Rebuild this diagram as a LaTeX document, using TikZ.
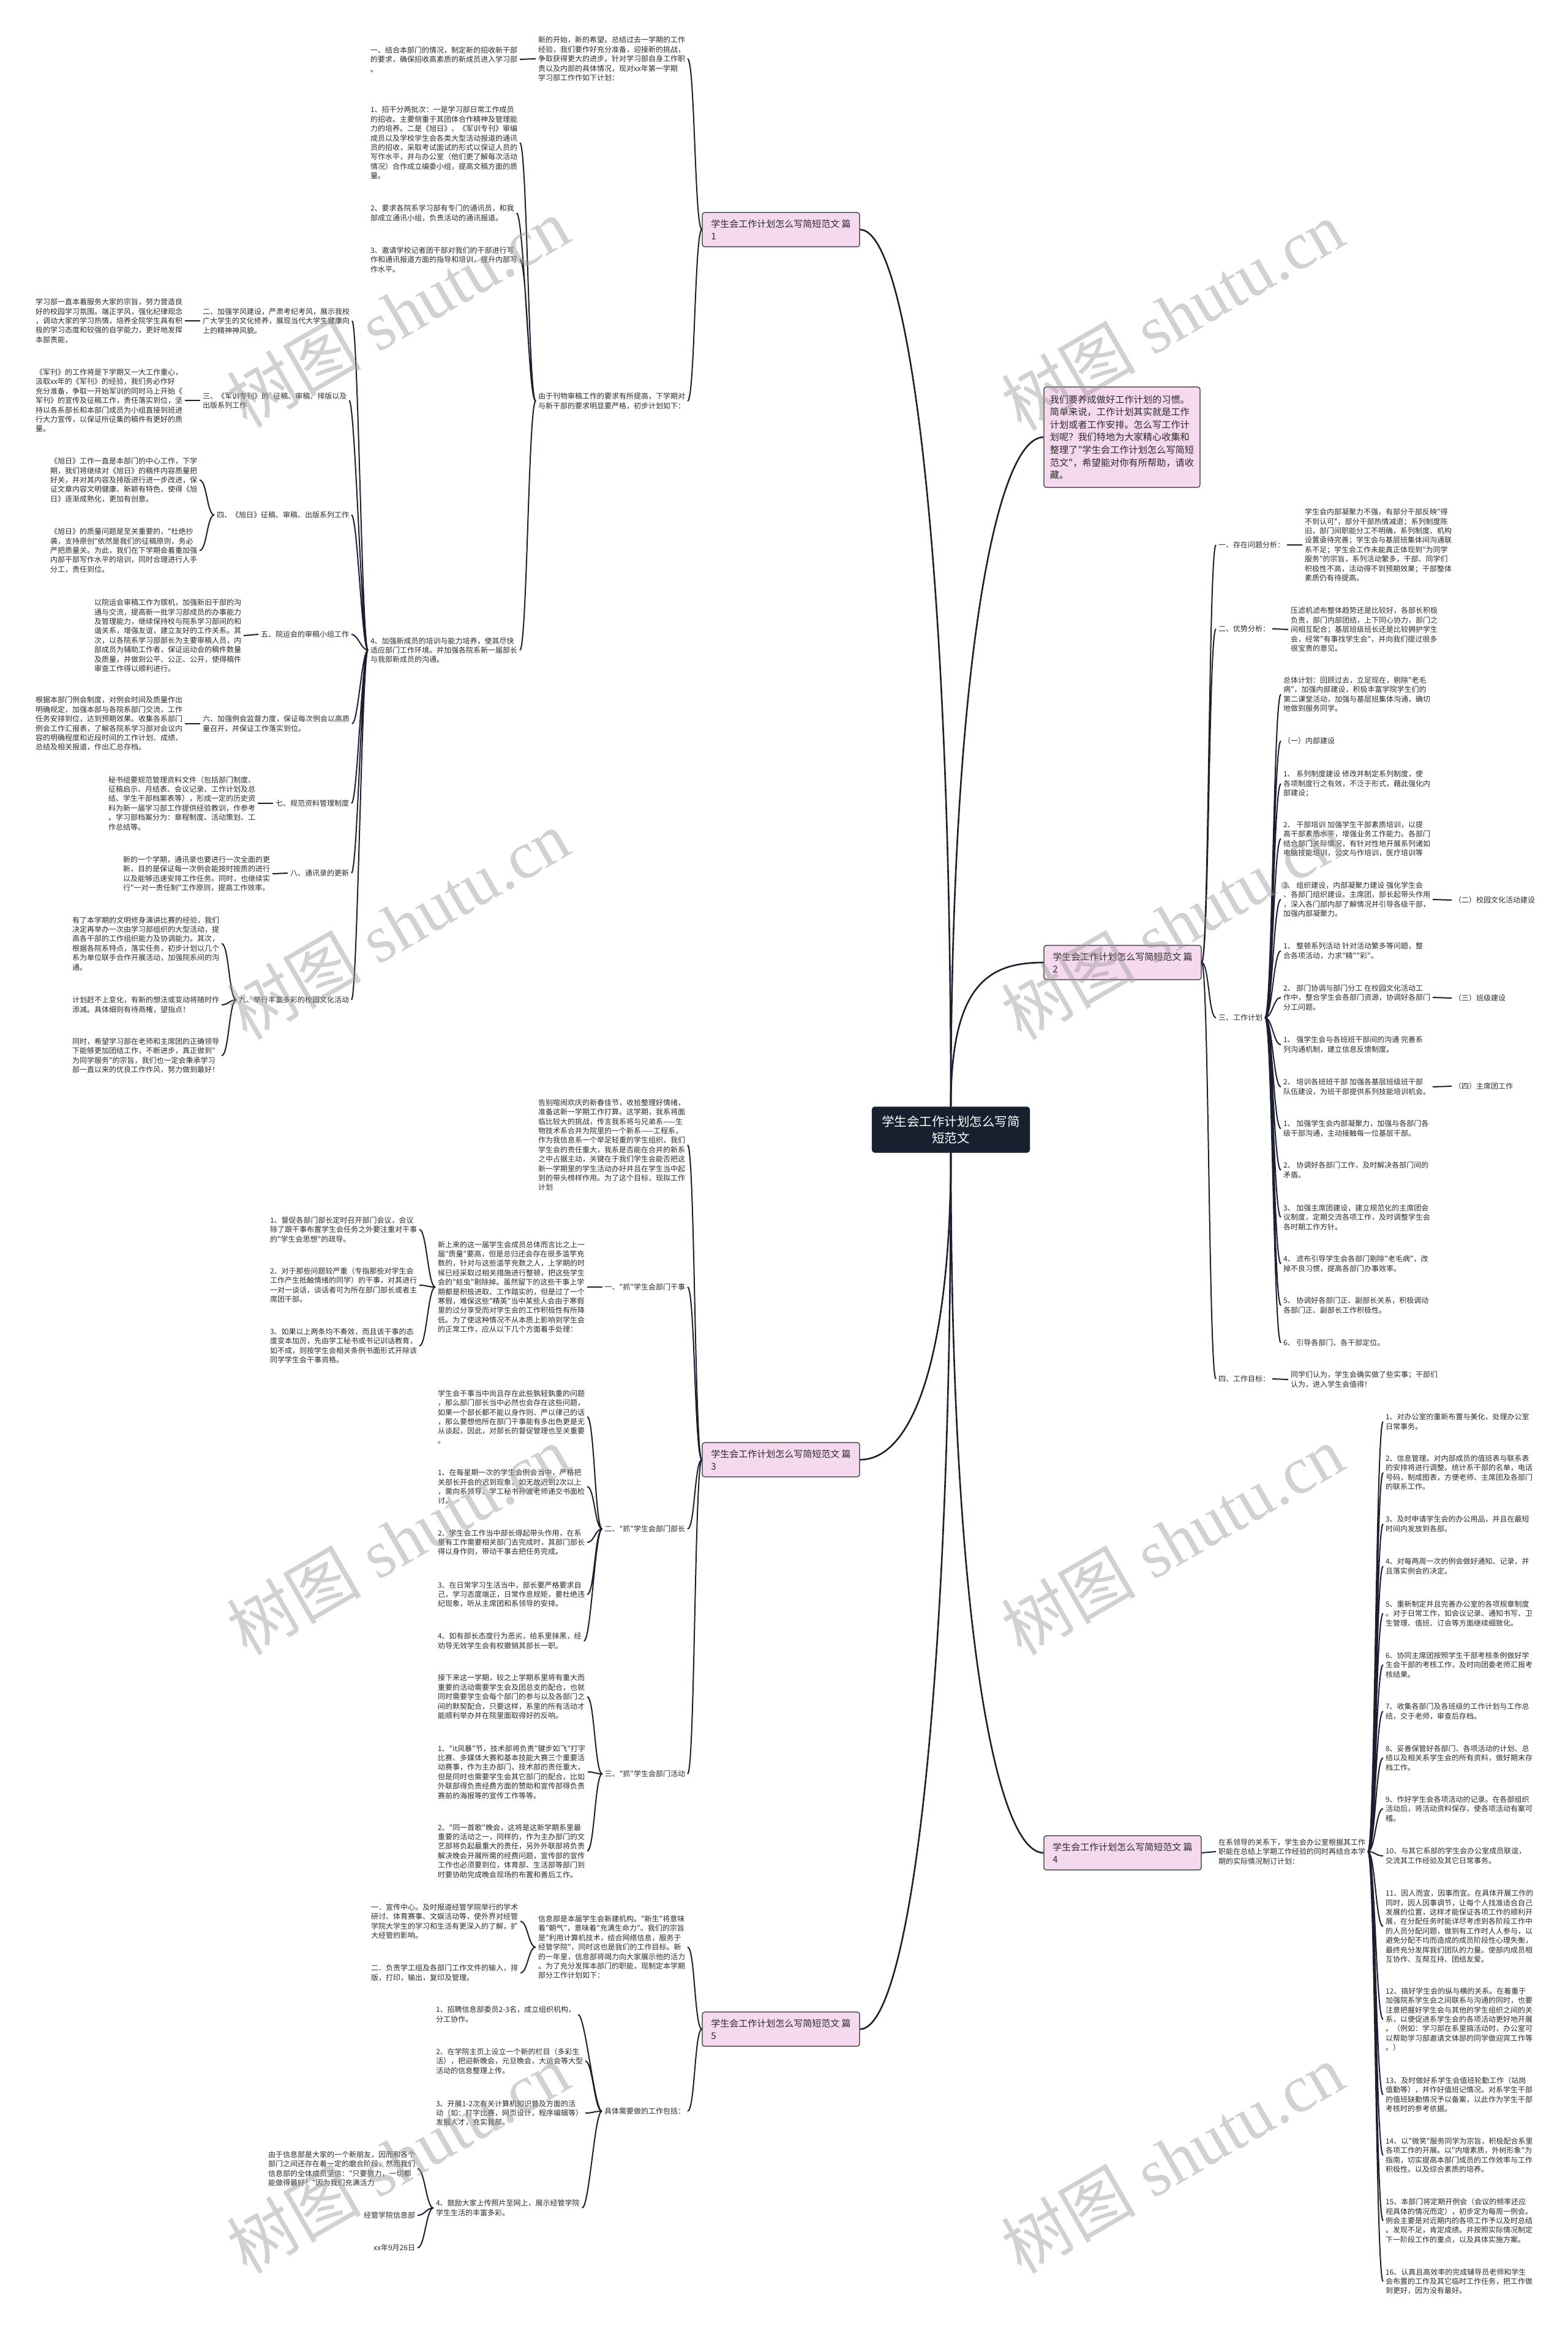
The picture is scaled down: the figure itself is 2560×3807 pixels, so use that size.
\documentclass[tikz,border=0pt]{standalone}
\usepackage{fontspec}
\usetikzlibrary{calc}
\newfontfamily\cjk{Noto Sans CJK SC}
\newfontfamily\wmser{Liberation Serif}
\definecolor{txtc}{HTML}{2B2B2B}
\definecolor{lnc}{HTML}{1A2030}
\definecolor{boxfl}{HTML}{F5D9EE}
\definecolor{boxln}{HTML}{2A2A30}
\definecolor{ctrfl}{HTML}{16202F}
\definecolor{wmc}{HTML}{9A9A9A}
\tikzset{
 txt/.style={font=\cjk\fontsize{12}{15.4}\selectfont, text=txtc, align=left, inner sep=0pt, outer sep=4pt},
 pbox/.style={draw=boxln, fill=boxfl, line width=1.2pt, rounded corners=4pt, font=\cjk\fontsize{15}{20.5}\selectfont, text=txtc, align=left, inner xsep=10pt, inner ysep=4pt, minimum width=257pt, minimum height=56pt},
 ibox/.style={draw=boxln, fill=boxfl, line width=1.2pt, rounded corners=4pt, font=\cjk\fontsize{15.2}{20.6}\selectfont, text=txtc, align=left, inner xsep=8pt, inner ysep=8pt, minimum width=255pt, minimum height=164pt},
 ctrbox/.style={draw=ctrfl, fill=ctrfl, rounded corners=5pt, font=\cjk\fontsize{20.5}{27}\selectfont, text=white, align=center, inner xsep=14pt, minimum width=258pt, minimum height=75pt},
 con/.style={draw=lnc, line width=2pt},
 lft/.style={con, to path={.. controls ($(\tikztostart)+(-#1,0)$) and ($(\tikztotarget)+(#1,0)$) .. (\tikztotarget)}},
 rgt/.style={con, to path={.. controls ($(\tikztostart)+(#1,0)$) and ($(\tikztotarget)+(-#1,0)$) .. (\tikztotarget)}},
 mainc/.style={draw=lnc, line width=2.6pt},
 wm/.style={text=wmc, opacity=0.45, rotate=30, font=\wmser\fontsize{110}{110}\selectfont, inner sep=0pt}
}
\begin{document}
\begin{tikzpicture}[x=1pt,y=-1pt]
\fill[white] (0,0) rectangle (2560,3807);
\useasboundingbox (0,0) rectangle (2560,3807);

% center
\node[ctrbox] (ctr) at (1553,1845) {学生会工作计划怎么写简\\短范文};

% ===== Branch 1 =====
\node[pbox] (B1) at (1275.5,375) {学生会工作计划怎么写简短范文 篇\\1};
\node[txt,anchor=west] (n1b) at (875,96) {新的开始，新的希望。总结过去一学期的工作\\经验，我们要作好充分准备，迎接新的挑战，\\争取获得更大的进步。针对学习部自身工作职\\责以及内部的具体情况，现对xx年第一学期\\学习部工作作如下计划：};
\node[txt,anchor=west] (n1a) at (601,97) {一、结合本部门的情况，制定新的招收新干部\\的要求，确保招收高素质的新成员进入学习部\\。};
\node[txt,anchor=west] (n1c) at (875,655) {由于刊物审稿工作的要求有所提高，下学期对\\与新干部的要求明显要严格，初步计划如下：};
\node[txt,anchor=west] (n1d) at (601,233) {1、招干分两批次：一是学习部日常工作成员\\的招收。主要侧重于其团体合作精神及管理能\\力的培养。二是《旭日》、《军训专刊》审编\\成员以及学校学生会各类大型活动报道的通讯\\员的招收，采取考试面试的形式以保证人员的\\写作水平，并与办公室（他们更了解每次活动\\情况）合作成立编委小组，提高文稿方面的质\\量。};
\node[txt,anchor=west] (n1e) at (601,348) {2、要求各院系学习部有专门的通讯员，和我\\部成立通讯小组，负责活动的通讯报道。};
\node[txt,anchor=west] (n1f) at (601,424) {3、邀请学校记者团干部对我们的干部进行写\\作和通讯报道方面的指导和培训，提升内部写\\作水平。};
\node[txt,anchor=west] (n1g) at (601,1062) {4、加强新成员的培训与能力培养，使其尽快\\适应部门工作环境。并加强各院系新一届部长\\与我部新成员的沟通。};

\node[txt,anchor=west] (L2) at (327,524) {二、加强学风建设，严肃考纪考风，展示我校\\广大学生的文化修养，展现当代大学生健康向\\上的精神神风貌。};
\node[txt,anchor=west] (L3) at (327,654) {三、《军训专刊》的`征稿、审稿、排版以及\\出版系列工作};
\node[txt,anchor=east] (L4) at (574,841) {四、《旭日》征稿、审稿、出版系列工作};
\node[txt,anchor=east] (L5) at (574,1036) {五、院运会的审稿小组工作};
\node[txt,anchor=west] (L6) at (327,1182) {六、加强例会监督力度，保证每次例会以高质\\量召开，并保证工作落实到位。};
\node[txt,anchor=east] (L7) at (574,1312) {七、规范资料管理制度};
\node[txt,anchor=east] (L8) at (574,1426) {八、通讯录的更新};
\node[txt,anchor=east] (L9) at (574,1633) {九、举行丰富多彩的校园文化活动};

\node[txt,anchor=west] (D2) at (54,524) {学习部一直本着服务大家的宗旨，努力营造良\\好的校园学习氛围。端正学风，强化纪律观念\\，调动大家的学习热情，培养全院学生具有积\\极的学习态度和较强的自学能力，更好地发挥\\本部责能，};
\node[txt,anchor=west] (D3) at (54,654) {《军刊》的工作将是下学期又一大工作重心，\\汲取xx年的《军刊》的经验，我们务必作好\\充分准备，争取一开始军训的同时马上开始《\\军刊》的宣传及征稿工作，责任落实到位，坚\\持以各系部长和本部门成员为小组直接到班进\\行大力宣传，以保证所征集的稿件有更好的质\\量。};
\node[txt,anchor=west] (D4a) at (78,784) {《旭日》工作一直是本部门的中心工作，下学\\期，我们将继续对《旭日》的稿件内容质量把\\好关，并对其内容及排版进行进一步改进，保\\证文章内容文明健康、新颖有特色，使得《旭\\日》逐渐成熟化，更加有创意。};
\node[txt,anchor=west] (D4b) at (78,899) {《旭日》的质量问题是至关重要的，"杜绝抄\\袭，支持原创"依然是我们的征稿原则，务必\\严把质量关。为此，我们在下学期会着重加强\\内部干部写作水平的培训，同时合理进行人手\\分工，责任到位。};
\node[txt,anchor=west] (D5) at (150,1038) {以院运会审稿工作为锲机，加强新旧干部的沟\\通与交流，提高新一批学习部成员的办事能力\\及管理能力，继续保持校与院系学习部间的和\\谐关系，增强友谊，建立友好的工作关系。其\\次，以各院系学习部部长为主要审稿人员，内\\部成员为辅助工作者，保证运动会的稿件数量\\及质量，并做到公平、公正、公开，使得稿件\\审查工作得以顺利进行。};
\node[txt,anchor=west] (D6) at (54,1182) {根据本部门例会制度，对例会时间及质量作出\\明确规定，加强本部与各院系部门交流，工作\\任务安排到位，达到预期效果。收集各系部门\\例会工作汇报表，了解各院系学习部对会议内\\容的明确程度和近段时间的工作计划、成绩、\\总结及相关报道，作出汇总存档。};
\node[txt,anchor=west] (D7) at (173,1312) {秘书组要规范管理资料文件（包括部门制度、\\征稿启示、月结表、会议记录、工作计划及总\\结、学生干部档案表等），形成一定的历史资\\料为新一届学习部工作提供经验教训，作参考\\。学习部档案分为：章程制度、活动策划、工\\作总结等。};
\node[txt,anchor=west] (D8) at (197,1427) {新的一个学期，通讯录也要进行一次全面的更\\新，目的是保证每一次例会能按时按质的进行\\以及能够迅速安排工作任务。同时，也继续实\\行"一对一责任制"工作原则，提高工作效率。};
\node[txt,anchor=west] (D9a) at (114,1541) {有了本学期的文明修身演讲比赛的经验，我们\\决定再举办一次由学习部组织的大型活动，提\\高各干部的工作组织能力及协调能力。其次，\\根据各院系特点，落实任务，初步计划以几个\\系为单位联手合作开展活动，加强院系间的沟\\通。};
\node[txt,anchor=west] (D9b) at (114,1641) {计划赶不上变化，有新的想法或变动将随时作\\添减。具体细则有待商榷，望指点！};
\node[txt,anchor=west] (D9c) at (114,1724) {同时，希望学习部在老师和主席团的正确领导\\下能够更加团结工作，不断进步，真正做到"\\为同学服务"的宗旨，我们也一定会秉承学习\\部一直以来的优良工作作风，努力做到最好！};

% ===== Branch 3 =====
\node[pbox] (B3) at (1275.5,2384) {学生会工作计划怎么写简短范文 篇\\3};
\node[txt,anchor=west] (n3a) at (875,1870) {告别喧闹欢庆的新春佳节，收拾整理好情绪，\\准备这新一学期工作打算。这学期，我系将面\\临比较大的挑战，传言我系将与兄弟系——生\\物技术系合并为院里的一个新系——工程系，\\作为我信息系一个举足轻重的学生组织，我们\\学生会的责任重大，我系是否能在合并的新系\\之中占据主动，关键在于我们学生会能否把这\\新一学期里的学生活动办好并且在学生当中起\\到的带头榜样作用。为了这个目标，现拟工作\\计划};
\node[txt,anchor=east] (n3b) at (1123,2102) {一、"抓"学生会部门干事};
\node[txt,anchor=east] (n3c) at (1123,2497) {二、"抓"学生会部门部长};
\node[txt,anchor=east] (n3d) at (1123,2897) {三、"抓"学生会部门活动};
\node[txt,anchor=west] (n3b1) at (711,2102) {新上来的这一届学生会成员总体而言比之上一\\届"质量"要高，但是总归还会存在很多滥竽充\\数的，针对与这些滥竽充数之人，上学期的时\\候已经采取过相关措施进行整顿，把这些学生\\会的"蛀虫"剔除掉。虽然留下的这些干事上学\\期都是积极进取、工作踏实的，但是过了一个\\寒假，难保这些"精英"当中某些人会由于寒假\\里的过分享受而对学生会的工作积极性有所降\\低。为了使这种情况不从本质上影响到学生会\\的正常工作，应从以下几个方面着手处理：};
\node[txt,anchor=west] (n3b1a) at (437,2008) {1、督促各部门部长定时召开部门会议，会议\\除了跟干事布置学生会任务之外要注重对干事\\的"学生会思想"的疏导。};
\node[txt,anchor=west] (n3b1b) at (437,2099) {2、对于那些问题较严重（专指那些对学生会\\工作产生抵触情绪的同学）的干事，对其进行\\一对一谈话，谈话者可为所在部门部长或者主\\席团干部。};
\node[txt,anchor=west] (n3b1c) at (437,2198) {3、如果以上两条均不奏效，而且该干事的态\\度变本加厉，先由学工秘书或书记训话教育，\\如不成，则按学生会相关条例书面形式开除该\\同学学生会干事资格。};
\node[txt,anchor=west] (n3c1) at (711,2314) {学生会干事当中尚且存在此些孰轻孰重的问题\\，那么部门部长当中必然也会存在这些问题，\\如果一个部长都不能以身作则、严以律己的话\\，那么要想他所在部门干事能有多出色更是无\\从谈起，因此，对部长的督促管理也至关重要\\。};
\node[txt,anchor=west] (n3c2) at (711,2428) {1、在每星期一次的学生会例会当中，严格把\\关部长开会的迟到现象，如无故迟到2次以上\\，需向系领导、学工秘书孙波老师递交书面检\\讨。};
\node[txt,anchor=west] (n3c3) at (711,2519) {2、学生会工作当中部长得起带头作用，在系\\里有工作需要相关部门去完成时，其部门部长\\得以身作则，带动干事去把任务完成。};
\node[txt,anchor=west] (n3c4) at (711,2604) {3、在日常学习生活当中，部长要严格要求自\\己，学习态度端正，日常作息规矩，要杜绝违\\纪现象，听从主席团和系领导的安排。};
\node[txt,anchor=west] (n3c5) at (711,2680) {4、如有部长态度行为恶劣，给系里抹黑，经\\劝导无效学生会有权撤销其部长一职。};
\node[txt,anchor=west] (n3d1) at (711,2771) {接下来这一学期，较之上学期系里将有重大而\\重要的活动需要学生会及团总支的配合，也就\\同时需要学生会每个部门的参与以及各部门之\\间的默契配合，只要这样，系里的所有活动才\\能顺利举办并在院里面取得好的反响。};
\node[txt,anchor=west] (n3d2) at (711,2894) {1、"it风暴"节，技术部将负责"键步如飞"打字\\比赛、多媒体大赛和基本技能大赛三个重要活\\动赛事，作为主办部门，技术部的责任重大，\\但是同时也需要学生会其它部门的配合，比如\\外联部得负责经费方面的赞助和宣传部得负责\\赛前的海报等的宣传工作等等。};
\node[txt,anchor=west] (n3d3) at (711,3023) {2、"同一首歌"晚会，这将是这新学期系里最\\重要的活动之一，同样的，作为主办部门的文\\艺部将负起最重大的责任，另外外联部将负责\\解决晚会开展所需的经费问题，宣传部的宣传\\工作也必须要到位，体育部、生活部等部门到\\时要协助完成晚会现场的布置和善后工作。};

% ===== Branch 5 =====
\node[pbox] (B5) at (1275.5,3314) {学生会工作计划怎么写简短范文 篇\\5};
\node[txt,anchor=west] (n5a) at (875,3180) {信息部是本届学生会新建机构。"新生"将意味\\着"朝气"，意味着"充满生命力"。我们的宗旨\\是"利用计算机技术，结合网络信息，服务于\\经管学院"，同时这也是我们的工作目标。新\\的一年里，信息部将竭力向大家展示他的活力\\。为了充分发挥本部门的职能，现制定本学期\\部分工作计划如下：};
\node[txt,anchor=east] (n5b) at (1123,3448) {具体需要做的工作包括：};
\node[txt,anchor=west] (n5a1) at (602,3138) {一．宣传中心。及时报道经管学院举行的学术\\研讨、体育赛事、文娱活动等，使外界对经管\\学院大学生的学习和生活有更深入的了解，扩\\大经管的影响。};
\node[txt,anchor=west] (n5a2) at (602,3222) {二．负责学工组及各部门工作文件的输入，排\\版，打印，输出，复印及管理。};
\node[txt,anchor=west] (n5b1) at (708,3290) {1、招聘信息部委员2-3名，成立组织机构，\\分工协作。};
\node[txt,anchor=west] (n5b2) at (708,3366) {2、在学院主页上设立一个新的栏目（多彩生\\活），把迎新晚会，元旦晚会，大运会等大型\\活动的信息整理上传。};
\node[txt,anchor=west] (n5b3) at (708,3451) {3、开展1-2次有关计算机知识普及方面的活\\动（如：打字比赛，网页设计，程序编辑等）\\发掘人才，充实我部。};
\node[txt,anchor=west] (n5b4) at (708,3606) {4、鼓励大家上传照片至网上，展示经管学院\\学生生活的丰富多彩。};
\node[txt,anchor=east] (n5c1) at (682,3542) {由于信息部是大家的一个新朋友，因而和各个\\部门之间还存在着一定的磨合阶段，然而我们\\信息部的全体成员坚信："只要努力，一切都\\能做得最好！"因为我们充满活力};
\node[txt,anchor=east] (n5c2) at (682,3618) {经管学院信息部};
\node[txt,anchor=east] (n5c3) at (682,3671) {xx年9月26日};

% ===== Intro + Branch 2 =====
\node[ibox] (intro) at (1832.5,714) {我们要养成做好工作计划的习惯。\\简单来说，工作计划其实就是工作\\计划或者工作安排。怎么写工作计\\划呢？我们特地为大家精心收集和\\整理了"学生会工作计划怎么写简短\\范文"，希望能对你有所帮助，请收\\藏。};
\node[pbox] (B2) at (1833.5,1572) {学生会工作计划怎么写简短范文 篇\\2};
\node[txt,anchor=west] (n2a) at (1986,890) {一、存在问题分析：};
\node[txt,anchor=west] (n2a1) at (2127,890) {学生会内部凝聚力不强，有部分干部反映"得\\不到认可"，部分干部热情减退；系列制度陈\\旧，部门间职能分工不明确，系列制度、机构\\设置亟待完善；学生会与基层班集体间沟通联\\系不足；学生会工作未能真正体现到"为同学\\服务"的宗旨，系列活动繁多，干部、同学们\\积极性不高，活动得不到预期效果；干部整体\\素质仍有待提高。};
\node[txt,anchor=west] (n2b) at (1986,1027) {二、优势分析：};
\node[txt,anchor=west] (n2b1) at (2104,1028) {压滤机滤布整体趋势还是比较好，各部长积极\\负责，部门内部团结，上下同心协力，部门之\\间相互配合；基层班级班长还是比较拥护学生\\会，经常"有事找学生会"，并向我们提过很多\\很宝贵的意见。};
\node[txt,anchor=west] (n2c) at (1986,1662) {三、工作计划};
\node[txt,anchor=west] (c1) at (2092,1134) {总体计划：回顾过去，立足现在，剔除"老毛\\病"，加强内部建设，积极丰富学院学生们的\\第二课堂活动，加强与基层班集体沟通，确切\\地做到服务同学。};
\node[txt,anchor=west] (c2) at (2092,1210) {（一）内部建设};
\node[txt,anchor=west] (c3) at (2092,1280) {1、 系列制度建设 修改并制定系列制度，使\\各项制度行之有效，不泛于形式，藉此强化内\\部建设；};
\node[txt,anchor=west] (c4) at (2092,1370) {2、 干部培训 加强学生干部素质培训，以提\\高干部素质水平，增强业务工作能力。各部门\\结合部门关际情况，有针对性地开展系列诸如\\电脑技能培训，公文与作培训，医疗培训等};
\node[txt,anchor=west] (c5) at (2092,1469) {3、 组织建设，内部凝聚力建设 强化学生会\\、各部门组织建设。主席团，部长起带头作用\\，深入各门部内部了解情况并引导各级干部，\\加强内部凝聚力。};
\node[txt,anchor=west] (c6) at (2092,1553) {1、 整顿系列活动 针对活动繁多等问题，整\\合各项活动，力求"精""彩"。};
\node[txt,anchor=west] (c7) at (2092,1629) {2、 部门协调与部门分工 在校园文化活动工\\作中，整合学生会各部门资源，协调好各部门\\分工问题。};
\node[txt,anchor=west] (c8) at (2092,1706) {1、 强学生会与各班班干部间的沟通 完善系\\列沟通机制，建立信息反馈制度。};
\node[txt,anchor=west] (c9) at (2092,1775) {2、 培训各班班干部 加强各基层班级班干部\\队伍建设，为班干部提供系列技能培训机会。};
\node[txt,anchor=west] (c10) at (2092,1843) {1、 加强学生会内部凝聚力，加强与各部门各\\级干部沟通，主动接触每一位基层干部。};
\node[txt,anchor=west] (c11) at (2092,1911) {2、 协调好各部门工作，及时解决各部门间的\\矛盾。};
\node[txt,anchor=west] (c12) at (2092,1988) {3、 加强主席团建设，建立规范化的主席团会\\议制度，定期交流各项工作，及时调整学生会\\各时期工作方针。};
\node[txt,anchor=west] (c13) at (2092,2064) {4、 滤布引导学生会各部门剔除"老毛病"，改\\掉不良习惯，提高各部门办事效率。};
\node[txt,anchor=west] (c14) at (2092,2132) {5、 协调好各部门正、副部长关系，积极调动\\各部门正、副部长工作积极性。};
\node[txt,anchor=west] (c15) at (2092,2193) {6、 引导各部门、各干部定位。};
\node[txt,anchor=west] (s2) at (2371,1470) {（二）校园文化活动建设};
\node[txt,anchor=west] (s3) at (2371,1630) {（三）班级建设};
\node[txt,anchor=west] (s4) at (2371,1774) {（四）主席团工作};
\node[txt,anchor=west] (n2d) at (1986,2252) {四、工作目标：};
\node[txt,anchor=west] (n2d1) at (2104,2253) {同学们认为，学生会确实做了些实事；干部们\\认为，进入学生会值得！};

% ===== Branch 4 =====
\node[pbox] (B4) at (1833.5,3026) {学生会工作计划怎么写简短范文 篇\\4};
\node[txt,anchor=west] (n4a) at (1986,3024) {在系领导的关系下，学生会办公室根据其工作\\职能在总结上学期工作经验的同时再结合本学\\期的实际情况制订计划：};
\node[txt,anchor=west] (m1) at (2259,2322) {1、对办公室的重新布置与美化，处理办公室\\日常事务。};
\node[txt,anchor=west] (m2) at (2259,2405) {2、信息管理。对内部成员的值班表与联系表\\的安排将进行调整。统计系干部的名单，电话\\号码，制成图表，方便老师、主席团及各部门\\的联系工作。};
\node[txt,anchor=west] (m3) at (2259,2489) {3、及时申请学生会的办公用品，并且在最短\\时间内发放到各部。};
\node[txt,anchor=west] (m4) at (2259,2558) {4、对每两周一次的例会做好通知、记录，并\\且落实例会的决定。};
\node[txt,anchor=west] (m5) at (2259,2635) {5、重新制定并且完善办公室的各项规章制度\\。对于日常工作，如会议记录、通知书写、卫\\生管理、值班、订会等方面继续细致化。};
\node[txt,anchor=west] (m6) at (2259,2719) {6、协同主席团按照学生干部考核条例做好学\\生会干部的考核工作，及时向团委老师汇报考\\核结果。};
\node[txt,anchor=west] (m7) at (2259,2795) {7、收集各部门及各班级的工作计划与工作总\\结，交于老师，审查后存档。};
\node[txt,anchor=west] (m8) at (2259,2871) {8、妥善保管好各部门、各项活动的计划、总\\结以及相关系学生会的所有资料，做好期末存\\档工作。};
\node[txt,anchor=west] (m9) at (2259,2954) {9、作好学生会各项活动的记录。在各部组织\\活动后，将活动资料保存，使各项活动有案可\\稽。};
\node[txt,anchor=west] (m10) at (2259,3031) {10、与其它系部的学生会办公室成员联谊，\\交流其工作经验及其它日常事务。};
\node[txt,anchor=west] (m11) at (2259,3146) {11、因人而宜，因事而宜。在具体开展工作的\\同时，因人因事调节，让每个人找准适合自己\\发展的位置，这样才能保证各项工作的顺利开\\展，在分配任务时能详尽考虑到各阶段工作中\\的人员分配问题，做到有工作时人人参与，以\\避免分配不均而造成的成员阶段性心理失衡，\\最终充分发挥我们团队的力量。使部内成员相\\互协作、互帮互持、团结友爱。};
\node[txt,anchor=west] (m12) at (2259,3298) {12、搞好学生会的纵与横的关系。在着重于\\加强院系学生会之间联系与沟通的同时，也要\\注意把握好学生会与其他的学生组织之间的关\\系，以便促进系学生会的各项活动更好地开展\\。（例如：学习部在系里搞活动时，办公室可\\以帮助学习部邀请文体部的同学做迎宾工作等\\。）};
\node[txt,anchor=west] (m13) at (2259,3421) {13、及时做好系学生会值班轮勤工作（站岗\\值勤等），并作好值班记情况。对系学生干部\\的值班缺勤情况予以备案，以此作为学生干部\\考核时的参考依据。};
\node[txt,anchor=west] (m14) at (2259,3520) {14、以"微笑"服务同学为宗旨，积极配合系里\\各项工作的开展。以"内增素质，外树形象"为\\指南，切实提高本部门成员的工作效率与工作\\积极性。以及综合素质的培养。};
\node[txt,anchor=west] (m15) at (2259,3627) {15、本部门将定期开例会（会议的频率还应\\视具体的情况而定），初步定为每周一例会。\\例会主要是对近期内的各项工作予以及时总结\\。发现不足，肯定成绩。并按照实际情况制定\\下一阶段工作的重点，以及具体实施方案。};
\node[txt,anchor=west] (m16) at (2259,3726) {16、认真且高效率的完成辅导员老师和学生\\会布置的工作及其它临时工作任务，把工作做\\到更好，因为没有最好。};

% ===== main connectors (from the centre node's middle) =====
\draw[mainc] (ctr.north) .. controls ($(ctr.north)+(0,-900)$) and ($(B1.east)+(80,0)$) .. (B1.east);
\draw[mainc] (ctr.south) .. controls ($(ctr.south)+(0,320)$) and ($(B3.east)+(90,0)$) .. (B3.east);
\draw[mainc] (ctr.south) .. controls ($(ctr.south)+(0,900)$) and ($(B5.east)+(80,0)$) .. (B5.east);
\draw[mainc] (ctr.north) .. controls ($(ctr.north)+(0,-700)$) and ($(intro.west)+(-80,0)$) .. (intro.west);
\draw[mainc] (ctr.north) .. controls ($(ctr.north)+(0,-200)$) and ($(B2.west)+(-90,0)$) .. (B2.west);
\draw[mainc] (ctr.south) .. controls ($(ctr.south)+(0,750)$) and ($(B4.west)+(-80,0)$) .. (B4.west);

% ===== branch 1 connectors =====
\draw[lft=12] (B1.west) to (n1b.east) (B1.west) to (n1c.east);
\draw[con] (n1b.west) -- (n1a.east);
\draw[lft=12] (n1c.west) to (n1d.east) (n1c.west) to (n1e.east) (n1c.west) to (n1f.east) (n1c.west) to (n1g.east);
\draw[lft=10] (n1g.west) to (L2.east) (n1g.west) to (L3.east) (n1g.west) to (L4.east) (n1g.west) to (L5.east) (n1g.west) to (L6.east) (n1g.west) to (L7.east) (n1g.west) to (L8.east) (n1g.west) to (L9.east);
\draw[con] (L2.west) -- (D2.east);
\draw[con] (L3.west) -- (D3.east);
\draw[lft=12] (L4.west) to (D4a.east) (L4.west) to (D4b.east);
\draw[con] (L5.west) -- (D5.east);
\draw[con] (L6.west) -- (D6.east);
\draw[con] (L7.west) -- (D7.east);
\draw[con] (L8.west) -- (D8.east);
\draw[lft=12] (L9.west) to (D9a.east) (L9.west) to (D9b.east) (L9.west) to (D9c.east);

% ===== branch 3 connectors =====
\draw[lft=12] (B3.west) to (n3a.east) (B3.west) to (n3b.east) (B3.west) to (n3c.east) (B3.west) to (n3d.east);
\draw[con] (n3b.west) -- (n3b1.east);
\draw[lft=12] (n3b1.west) to (n3b1a.east) (n3b1.west) to (n3b1b.east) (n3b1.west) to (n3b1c.east);
\draw[lft=12] (n3c.west) to (n3c1.east) (n3c.west) to (n3c2.east) (n3c.west) to (n3c3.east) (n3c.west) to (n3c4.east) (n3c.west) to (n3c5.east);
\draw[lft=12] (n3d.west) to (n3d1.east) (n3d.west) to (n3d2.east) (n3d.west) to (n3d3.east);

% ===== branch 5 connectors =====
\draw[lft=12] (B5.west) to (n5a.east) (B5.west) to (n5b.east);
\draw[lft=12] (n5a.west) to (n5a1.east) (n5a.west) to (n5a2.east);
\draw[lft=12] (n5b.west) to (n5b1.east) (n5b.west) to (n5b2.east) (n5b.west) to (n5b3.east) (n5b.west) to (n5b4.east);
\draw[lft=12] (n5b4.west) to (n5c1.east) (n5b4.west) to (n5c2.east) (n5b4.west) to (n5c3.east);

% ===== branch 2 connectors =====
\draw[rgt=12] (B2.east) to (n2a.west) (B2.east) to (n2b.west) (B2.east) to (n2c.west) (B2.east) to (n2d.west);
\draw[con] (n2a.east) -- (n2a1.west);
\draw[con] (n2b.east) -- (n2b1.west);
\draw[con] (n2d.east) -- (n2d1.west);
\draw[rgt=12] (n2c.east) to (c1.west) (n2c.east) to (c2.west) (n2c.east) to (c3.west) (n2c.east) to (c4.west) (n2c.east) to (c5.west) (n2c.east) to (c6.west) (n2c.east) to (c7.west) (n2c.east) to (c8.west) (n2c.east) to (c9.west) (n2c.east) to (c10.west) (n2c.east) to (c11.west) (n2c.east) to (c12.west) (n2c.east) to (c13.west) (n2c.east) to (c14.west) (n2c.east) to (c15.west);
\draw[con] (c5.east) -- (s2.west);
\draw[con] (c7.east) -- (s3.west);
\draw[con] (c9.east) -- (s4.west);

% ===== branch 4 connectors =====
\draw[con] (B4.east) -- (n4a.west);
\draw[rgt=12] (n4a.east) to (m1.west) (n4a.east) to (m2.west) (n4a.east) to (m3.west) (n4a.east) to (m4.west) (n4a.east) to (m5.west) (n4a.east) to (m6.west) (n4a.east) to (m7.west) (n4a.east) to (m8.west) (n4a.east) to (m9.west) (n4a.east) to (m10.west) (n4a.east) to (m11.west) (n4a.east) to (m12.west) (n4a.east) to (m13.west) (n4a.east) to (m14.west) (n4a.east) to (m15.west) (n4a.east) to (m16.west);

% watermarks (translucent, on top, as in the reference)
\node[wm] (w1) at (650,510) {{\cjk 树图} shutu.cn};
\node[wm] (w2) at (1915,515) {{\cjk 树图} shutu.cn};
\node[wm] (w3) at (650,1510) {{\cjk 树图} shutu.cn};
\node[wm] (w4) at (1915,1510) {{\cjk 树图} shutu.cn};
\node[wm] (w5) at (650,2515) {{\cjk 树图} shutu.cn};
\node[wm] (w6) at (1915,2515) {{\cjk 树图} shutu.cn};
\node[wm] (w7) at (650,3525) {{\cjk 树图} shutu.cn};
\node[wm] (w8) at (1915,3525) {{\cjk 树图} shutu.cn};
\end{tikzpicture}
\end{document}
